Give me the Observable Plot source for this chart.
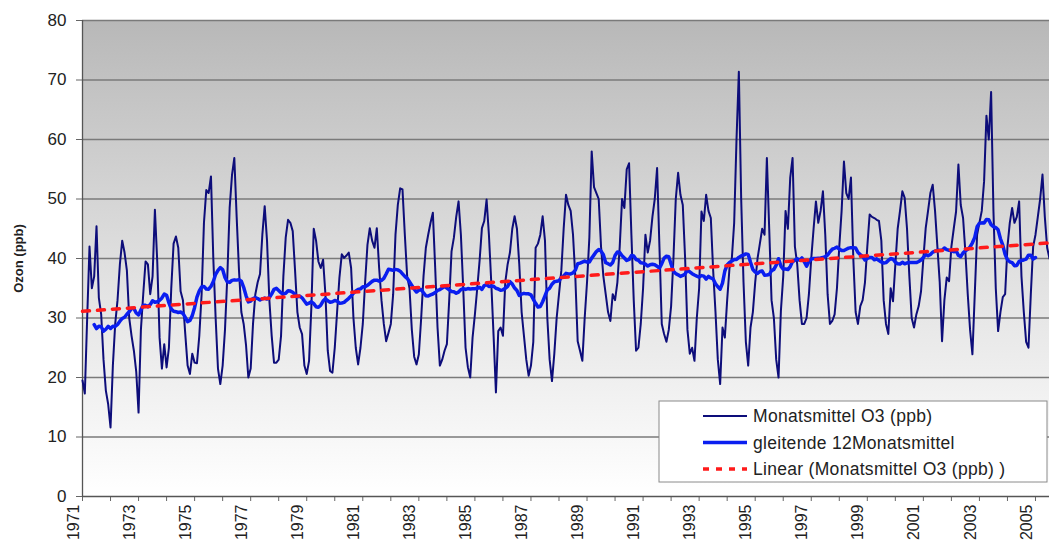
<!DOCTYPE html>
<html><head><meta charset="utf-8">
<script src="https://cdn.jsdelivr.net/npm/d3@7"></script>
<script src="https://cdn.jsdelivr.net/npm/@observablehq/plot@0.6"></script>
<style>
body{margin:0;background:#fff;}
#chart svg{display:block;font-family:"Liberation Sans",Arial,sans-serif;}
#chart svg [aria-label="y-axis label"] text{font-weight:bold;font-size:13px;}
</style></head><body><div id="chart"></div>
<script>
// Monthly ozone means (ppb), starting January 1971
const startYear = 1971;
const o3_1971_1980 = [
  19.5,17.3,30,42,35,37,45.4,33.4,30.6,23,17.8,15.5,
  11.6,22,29,33,39,43,41,38,30,27,24.5,21,
  14.1,28,34,39.5,39,34,37,48.2,39.5,26.7,21.5,25.6,
  21.7,25,35,42.5,43.7,41.8,34.5,33,27.3,22,20.6,24,
  22.5,22.4,27,34,46,51.5,51,53.8,40,30,21.5,18.9,
  22,28,37,48.5,54,56.9,47,38,31,29,25.5,20,
  21.5,29,34,36,37.4,44,48.8,43,33,27,22.5,22.5,
  23,27,37,43.5,46.5,46,44.6,38,31,28.4,27.3,22,
  20.6,22.8,32,45,43,39.5,38.4,39.8,34,24.5,21.1,20.8,
  25,31,36.8,40.7,40.1,40.5,41,38.4,30,25,22.2,25
];
const o3_1981_1990 = [
  29,36,42.3,45.1,43,41.8,45.1,38.4,33,29,26.1,27.5,
  29,34,44,49,51.8,51.6,44,37,35,28,23.5,22.2,
  23.9,30,37,41.8,44,46,47.7,38.4,28.4,22,23,24.5,
  25.6,33,41.2,43.5,47,49.6,44,35,25,21.7,20,26.7,
  30.6,35,39.6,45.1,46.3,49.9,44,36,27,17.5,27.8,28.4,
  27,36,39,41,45,47.1,45,39,31,27,23,20.3,
  22,26,41.8,42.5,44,47.1,43,30,23,19.4,24,30,
  34,38,45,50.7,49,48,44,36.8,26.1,24.5,22.8,30,
  36,43.5,58,52,51,50,42,37,34,31,29.5,34,
  33,36,42,50,48.5,55,56,44,33,24.5,25,29
];
const o3_1991_2000 = [
  35,44,41,43,47,50,55.2,42,29,27.3,26,28,
  32,40,50,54.4,50.7,49,40,28,24,25,22.8,30,
  35,47.9,46.3,50.7,48,46.8,38,31,23,18.9,28.4,26.7,
  33,38.4,40,46,60,71.4,50,36,26,22,28.4,31,
  36,40,42.5,45,44,56.9,45,33,30,23,20,31.2,
  37,48,45,53.6,56.9,42,39,33,29,29,30,34,
  40,45,49.6,46,48,51.3,44,34,29,29.5,30.6,35,
  42,48,56.3,51,50,53.6,40,31,29,32,33,36,
  42,47.4,47,46.8,46.5,46.3,43,33,29,27.3,35,32.8,
  39,45,48,51.3,50.2,45,37,30,28.4,30.6,32,34.5
];
const o3_2001_2005 = [
  40,45.1,48,51,52.4,48,42,36,26.1,33,36.8,36.2,
  42,45,47.9,55.8,49,46.8,41,34,28,23.9,34,44,
  46,48,53,64,60,68,48,35,27.8,31,33.5,34,
  42,46,48.5,46,47,49.6,37,31,26,25,34,42,
  44,47,50,54.1,47,41.8,40
];
const yTicks = [0,10,20,30,40,50,60,70,80];
const xTickYears = [1971,1973,1975,1977,1979,1981,1983,1985,1987,1989,1991,1993,1995,1997,1999,2001,2003,2005];
const seriesNames = ["Monatsmittel O3 (ppb)", "gleitende 12Monatsmittel", "Linear (Monatsmittel O3 (ppb) )"];
const yLabel = "Ozon (ppb)";

const monthly = [...o3_1971_1980, ...o3_1981_1990, ...o3_1991_2000, ...o3_2001_2005];
const rows = monthly.map((v, i) => ({i, x: startYear + i / 12, v}));

const NS = "http://www.w3.org/2000/svg";
function el(tag, attrs) {
  const e = document.createElementNS(NS, tag);
  for (const k in attrs) e.setAttribute(k, attrs[k]);
  return e;
}
function background(index, scales, values, dims) {
  const g = el("g", {});
  const defs = el("defs", {});
  const lg = el("linearGradient", {id: "bgGrad", x1: 0, y1: 0, x2: 0, y2: 1});
  lg.appendChild(el("stop", {offset: "0%", "stop-color": "#b8b8b8"}));
  lg.appendChild(el("stop", {offset: "55%", "stop-color": "#e2e2e2"}));
  lg.appendChild(el("stop", {offset: "100%", "stop-color": "#ffffff"}));
  defs.appendChild(lg);
  g.appendChild(defs);
  g.appendChild(el("rect", {
    x: dims.marginLeft, y: dims.marginTop,
    width: dims.width - dims.marginLeft - dims.marginRight,
    height: dims.height - dims.marginTop - dims.marginBottom,
    fill: "url(#bgGrad)"
  }));
  return g;
}
function legend(index, scales, values, dims) {
  const g = el("g", {"font-size": 17.5, "font-family": "'Liberation Sans',Arial,sans-serif", "text-anchor": "start"});
  const x0 = dims.width - 390, y0 = 401, w = 388, h = 81;
  g.appendChild(el("rect", {x: x0, y: y0, width: w, height: h, fill: "#fff", stroke: "#8a8a8a", "stroke-width": 1}));
  const styles = [
    {stroke: "#0d0d7a", "stroke-width": 2},
    {stroke: "#0a1ef0", "stroke-width": 3.5},
    {stroke: "#ff1a1a", "stroke-width": 3.5, "stroke-dasharray": "6,7"}
  ];
  seriesNames.forEach((name, k) => {
    const cy = y0 + 15 + k * 26.5;
    g.appendChild(el("line", Object.assign({x1: x0 + 44, x2: x0 + 88, y1: cy, y2: cy}, styles[k])));
    const t = el("text", {x: x0 + 94, y: cy, dy: "0.35em", fill: "#222", "text-anchor": "start", "letter-spacing": "0.3"});
    t.textContent = name;
    g.appendChild(t);
  });
  return g;
}

const chart = Plot.plot({
  width: 1049,
  height: 544,
  marginLeft: 82,
  marginRight: 0,
  marginTop: 20,
  marginBottom: 48,
  style: {fontFamily: "'Liberation Sans',Arial,sans-serif", fontSize: "16px", color: "#222"},
  x: {domain: [startYear, startYear + (monthly.length - 1) / 12]},
  y: {domain: [0, 80]},
  marks: [
    background,
    Plot.ruleY(yTicks.slice(1), {stroke: "#7a7a7a", strokeWidth: 1.3}),
    Plot.axisY({ticks: yTicks, tickSize: 6, tickPadding: 10, fontSize: 17, label: yLabel, labelAnchor: "center", labelArrow: "none", labelOffset: 69, stroke: "#666"}),
    Plot.axisX({ticks: xTickYears, tickFormat: d => String(d), tickRotate: -90, tickSize: 0, tickPadding: 8, dx: -9, fontSize: 16, label: null}),
    Plot.axisX({ticks: d3.range(1971, 2006, 1), tickFormat: () => "", tickSize: 5, label: null, stroke: "#666"}),
    Plot.ruleX([startYear], {stroke: "#555", strokeWidth: 1.3}),
    Plot.ruleY([0], {stroke: "#555", strokeWidth: 1.3}),
    Plot.lineY(rows, {x: "x", y: "v", stroke: "#0d0d7a", strokeWidth: 2}),
    Plot.lineY(rows, Plot.windowY({k: 12, anchor: "middle", strict: true}, {x: "x", y: "v", stroke: "#0a1ef0", strokeWidth: 3.5})),
    Plot.linearRegressionY(rows, {x: "x", y: "v", stroke: "#ff1a1a", strokeWidth: 3.5, strokeDasharray: "7,8", ci: 0}),
    legend
  ]
});
document.getElementById("chart").appendChild(chart);
</script></body></html>
